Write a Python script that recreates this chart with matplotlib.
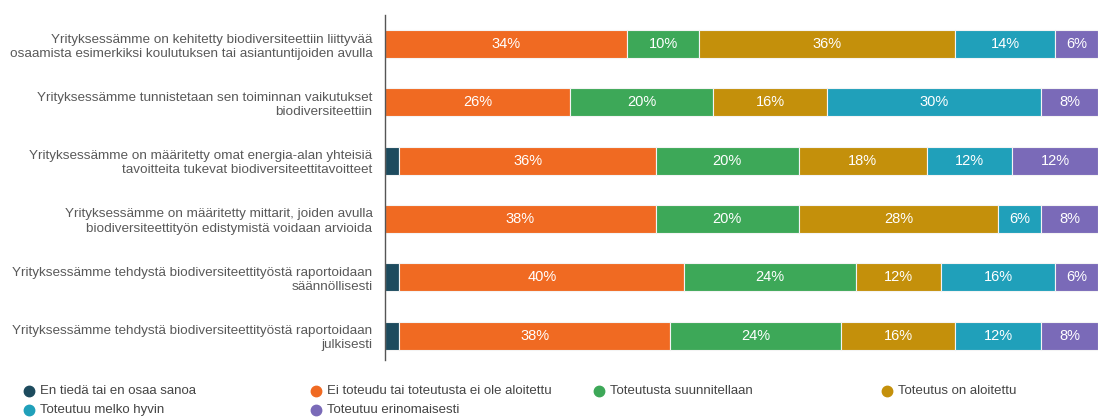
import matplotlib
matplotlib.use("Agg")
import matplotlib.pyplot as plt
from matplotlib.lines import Line2D
import numpy as np

plt.rcParams['font.family'] = ['Liberation Sans', 'DejaVu Sans']

categories = [
    "Yrityksessämme on kehitetty biodiversiteettiin liittyvää\nosaamista esimerkiksi koulutuksen tai asiantuntijoiden avulla",
    "Yrityksessämme tunnistetaan sen toiminnan vaikutukset\nbiodiversiteettiin",
    "Yrityksessämme on määritetty omat energia-alan yhteisiä\ntavoitteita tukevat biodiversiteettitavoitteet",
    "Yrityksessämme on määritetty mittarit, joiden avulla\nbiodiversiteettityön edistymistä voidaan arvioida",
    "Yrityksessämme tehdystä biodiversiteettityöstä raportoidaan\nsäännöllisesti",
    "Yrityksessämme tehdystä biodiversiteettityöstä raportoidaan\njulkisesti",
]

series_names = [
    "En tiedä tai en osaa sanoa",
    "Ei toteudu tai toteutusta ei ole aloitettu",
    "Toteutusta suunnitellaan",
    "Toteutus on aloitettu",
    "Toteutuu melko hyvin",
    "Toteutuu erinomaisesti",
]

en_tieda     = [0, 0, 2, 0, 2, 2]
ei_toteudu   = [34, 26, 36, 38, 40, 38]
suunnitellaan = [10, 20, 20, 20, 24, 24]
aloitettu    = [36, 16, 18, 28, 12, 16]
melko_hyvin  = [14, 30, 12, 6, 16, 12]
erinomaisesti = [6, 8, 12, 8, 6, 8]

colors = ["#1d4b5e", "#f06a22", "#3da858", "#c4900b", "#20a0ba", "#7a6ab8"]

data = [en_tieda, ei_toteudu, suunnitellaan, aloitettu, melko_hyvin, erinomaisesti]

fig = plt.figure(figsize=(10.98, 4.18), dpi=100)
ax = fig.add_axes([385/1098, 1 - 360/418, 1 - 385/1098, (360 - 15)/418])

y = np.arange(len(categories))
left = np.zeros(len(categories))
for vals, col in zip(data, colors):
    vals = np.array(vals, dtype=float)
    ax.barh(y, vals, left=left, height=0.48, color=col, edgecolor="#f4f4f4", linewidth=0.8)
    for yi, v, l in zip(y, vals, left):
        if v >= 5:
            ax.text(l + v / 2, yi, f"{int(round(v))}%", ha="center", va="center",
                    color="white", fontsize=10.5)
    left += vals

ax.set_xlim(0, 100)
ax.set_ylim(5.42, -0.5)
ax.set_yticks(y)
ax.set_yticklabels(categories, fontsize=9.7, color="#595959", linespacing=1.25)
ax.tick_params(axis="y", length=0, pad=9)
ax.set_xticks([])
for s in ["top", "right", "bottom"]:
    ax.spines[s].set_visible(False)
ax.spines["left"].set_color("#555555")
ax.spines["left"].set_linewidth(1.0)

# legend
leg_pos = [(29, 391), (316, 391), (599, 391), (887, 391), (29, 410), (316, 410)]
for (px, py), name, col in zip(leg_pos, series_names, colors):
    fx, fy = px / 1098, 1 - py / 418
    fig.add_artist(Line2D([fx], [fy], marker="o", markersize=7.5, color=col,
                          linestyle="none", transform=fig.transFigure))
    fig.text(fx + 11 / 1098, fy, name, ha="left", va="center", fontsize=9.5, color="#444444")

fig.savefig("out.png", dpi=100)
